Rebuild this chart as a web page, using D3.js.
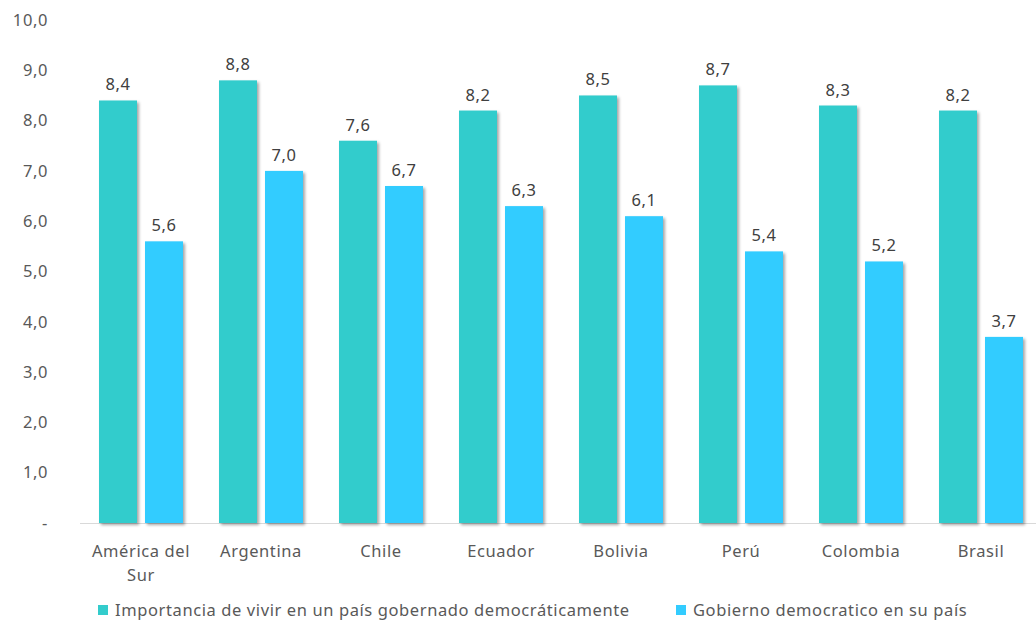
<!DOCTYPE html>
<html>
<head>
<meta charset="utf-8">
<script src="https://cdn.jsdelivr.net/npm/d3@7"></script>
<style>
  body { margin: 0; background: #fff; }
  svg text { font-family: "Noto Sans", "Open Sans", sans-serif; letter-spacing: 0.6px; }
</style>
</head>
<body>
<div class="chart"></div>
<script>
// data
var categories = ["América del Sur", "Argentina", "Chile", "Ecuador", "Bolivia", "Perú", "Colombia", "Brasil"];
var importancia = [8.4, 8.8, 7.6, 8.2, 8.5, 8.7, 8.3, 8.2];
var gobierno = [5.6, 7.0, 6.7, 6.3, 6.1, 5.4, 5.2, 3.7];
var seriesNames = ["Importancia de vivir en un país gobernado democráticamente", "Gobierno democratico en su país"];
var seriesColors = ["#33CCCC", "#33CCFF"];
var yTicks = [0, 1, 2, 3, 4, 5, 6, 7, 8, 9, 10];

var width = 1036, height = 622;
var margin = {left: 81, right: -5, top: 20, bottom: 99};
var fs = 16.5;

var svg = d3.select(".chart").append("svg")
    .attr("width", width)
    .attr("height", height);

var defs = svg.append("defs");
var f = defs.append("filter").attr("id", "shadow")
    .attr("x", "-20%").attr("y", "-5%").attr("width", "140%").attr("height", "110%");
f.append("feDropShadow")
    .attr("dx", 2).attr("dy", 2).attr("stdDeviation", 1.5)
    .attr("flood-color", "#000").attr("flood-opacity", 0.35);

var x = d3.scaleBand()
    .domain(categories)
    .range([margin.left, width - margin.right]);

// two bars inside each group
var xs = d3.scaleBand()
    .domain([0, 1])
    .range([18, 102])
    .paddingInner(0.174);

var y = d3.scaleLinear()
    .domain([0, 10])
    .range([height - margin.bottom, margin.top]);

var fmt = function(v) { return v === 0 ? "-" : d3.format(".1f")(v).replace(".", ","); };

// y axis labels
svg.append("g").selectAll("text")
    .data(yTicks).enter().append("text")
    .attr("x", 48)
    .attr("y", function(d) { return y(d); })
    .attr("dy", "0.35em")
    .attr("text-anchor", "end")
    .attr("fill", "#595959")
    .attr("font-size", fs)
    .text(fmt);

// baseline
svg.append("line")
    .attr("x1", 80).attr("x2", width)
    .attr("y1", y(0) + 0.5).attr("y2", y(0) + 0.5)
    .attr("stroke", "#d9d9d9").attr("stroke-width", 1);

var rows = categories.map(function(c, i) { return {cat: c, vals: [importancia[i], gobierno[i]]}; });

var groups = svg.append("g").selectAll("g")
    .data(rows).enter().append("g")
    .attr("transform", function(d) { return "translate(" + x(d.cat) + ",0)"; });

groups.selectAll("rect")
    .data(function(d) { return d.vals; })
    .enter().append("rect")
    .attr("x", function(d, i) { return xs(i); })
    .attr("width", xs.bandwidth())
    .attr("y", function(d) { return y(d); })
    .attr("height", function(d) { return y(0) - y(d); })
    .attr("fill", function(d, i) { return seriesColors[i]; })
    .attr("filter", "url(#shadow)");

groups.selectAll(".lbl")
    .data(function(d) { return d.vals; })
    .enter().append("text")
    .attr("class", "lbl")
    .attr("x", function(d, i) { return xs(i) + xs.bandwidth() / 2; })
    .attr("y", function(d) { return y(d) - 10; })
    .attr("text-anchor", "middle")
    .attr("fill", "#404040")
    .attr("font-size", fs)
    .text(fmt);

// category labels
var catLines = {"América del Sur": ["América del", "Sur"]};
svg.append("g").selectAll("text")
    .data(categories).enter().append("text")
    .attr("x", function(d) { return x(d) + x.bandwidth() / 2; })
    .attr("y", 557)
    .attr("text-anchor", "middle")
    .attr("fill", "#595959")
    .attr("font-size", fs)
    .each(function(d) {
        var lines = catLines[d] || [d];
        var t = d3.select(this);
        lines.forEach(function(l, k) {
            t.append("tspan").attr("x", x(d) + x.bandwidth() / 2).attr("dy", k ? 24 : 0).text(l);
        });
    });

// legend
var legendX = [98, 676];
var leg = svg.append("g").selectAll("g")
    .data(seriesNames).enter().append("g")
    .attr("transform", function(d, i) { return "translate(" + legendX[i] + ",605)"; });
leg.append("rect")
    .attr("width", 10).attr("height", 10)
    .attr("fill", function(d, i) { return seriesColors[i]; });
leg.append("text")
    .attr("x", 17).attr("y", 5)
    .attr("dy", "0.35em")
    .attr("fill", "#595959")
    .attr("font-size", fs)
    .text(function(d) { return d; });
</script>
</body>
</html>
